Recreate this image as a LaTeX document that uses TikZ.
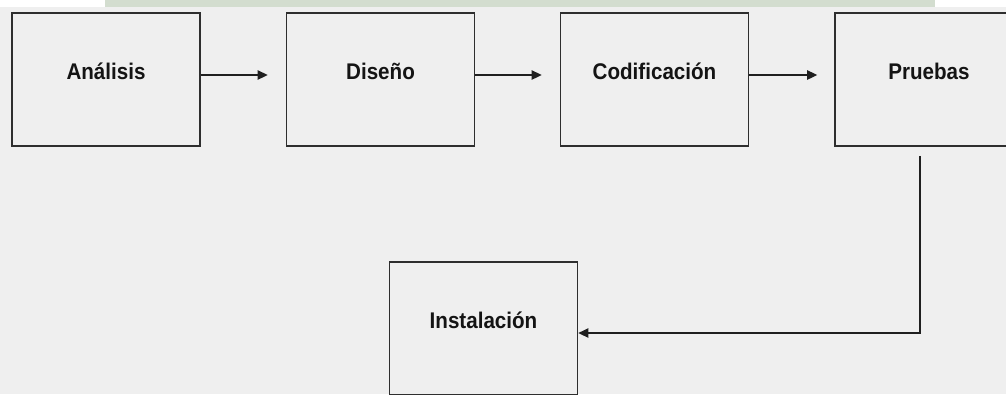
\documentclass[tikz,border=0pt]{standalone}
\usepackage{graphicx}
\usepackage{fontspec}
\setmainfont{Liberation Sans}
\usetikzlibrary{arrows.meta}
\definecolor{bg}{HTML}{EFEFEF}
\definecolor{edge}{HTML}{2E2E2E}
\definecolor{wm}{HTML}{D3DDCF}
\newcommand{\stxt}[1]{\scalebox{1}[1.1]{#1}}
\tikzset{
  stagebox/.style={draw=edge, line width=1.8pt, fill=bg, minimum width=188pt, minimum height=133pt,
    inner sep=0pt, text height=11pt, text depth=11pt,
    font=\fontsize{20.6}{21}\selectfont\bfseries, text=black!92},
  flow/.style={draw=black!88, line width=1.3pt, -{Triangle[length=10pt,width=9.5pt]}},
}
\begin{document}
\begin{tikzpicture}[x=1pt,y=-1pt]
\useasboundingbox (0,0) rectangle (1006,394);
\fill[bg] (0,0) rectangle (1006,394);
\fill[white] (0,0) rectangle (1006,7);
\fill[wm] (105,0) rectangle (935,7);
\begin{scope}
\clip (0,0) rectangle (1006,394);
\node[stagebox] (a) at (106,79.5) {\stxt{Análisis}};
\node[stagebox] (d) at (380.5,79.5) {\stxt{Diseño}};
\node[stagebox] (c) at (654.5,79.5) {\stxt{Codificación}};
\node[stagebox] (p) at (929,79.5) {\stxt{Pruebas}};
\node[stagebox] (i) at (483.5,328.5) {\stxt{Instalación}};
\end{scope}
\draw[flow, shorten >=18pt] ([yshift=4.5pt]a.east) -- ([yshift=4.5pt]d.west);
\draw[flow, shorten >=18pt] ([yshift=4.5pt]d.east) -- ([yshift=4.5pt]c.west);
\draw[flow, shorten >=17pt] ([yshift=4.5pt]c.east) -- ([yshift=4.5pt]p.west);
\coordinate (ps) at ([xshift=-9pt,yshift=-9pt]p.south);
\draw[flow] (ps) |- ([yshift=-4.5pt]i.east);
\end{tikzpicture}
\end{document}
